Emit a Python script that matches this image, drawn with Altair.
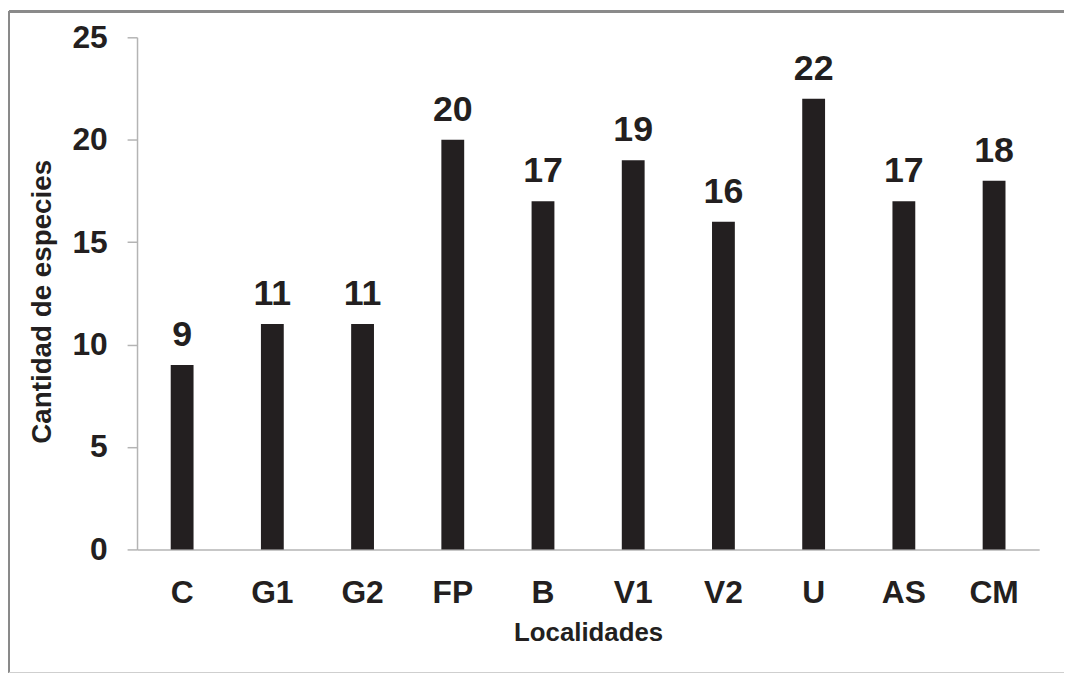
import altair as alt
import pandas as pd

localidades = ["C", "G1", "G2", "FP", "B", "V1", "V2", "U", "AS", "CM"]
especies = [9, 11, 11, 20, 17, 19, 16, 22, 17, 18]
y_ticks = [0, 5, 10, 15, 20, 25]

df = pd.DataFrame({"Localidades": localidades, "Especies": especies})

INK = "#231f20"
FONT = "Liberation Sans"

x_enc = alt.X(
    "Localidades:N",
    sort=localidades,
    scale=alt.Scale(paddingInner=0.0, paddingOuter=0.0),
    axis=alt.Axis(
        title="Localidades",
        labelAngle=0,
        ticks=False,
        tickSize=0,
        labelPadding=28,
        labelFontSize=32,
        labelFontWeight="bold",
        labelColor=INK,
        labelFont=FONT,
        domainColor="#b4b4b4",
        domainWidth=1.5,
        titleFontSize=26,
        titleFontWeight="bold",
        titleColor=INK,
        titleFont=FONT,
        titleBaseline="top",
        titleY=71,
    ),
)
y_enc = alt.Y(
    "Especies:Q",
    scale=alt.Scale(domain=[0, 25], nice=False),
    axis=alt.Axis(
        title="Cantidad de especies",
        values=y_ticks,
        grid=False,
        tickSize=10,
        tickColor="#b4b4b4",
        tickWidth=1.5,
        domainColor="#b4b4b4",
        domainWidth=1.5,
        labelPadding=20,
        labelFontSize=32,
        labelFontWeight="bold",
        labelColor=INK,
        labelFont=FONT,
        titleFontSize=28,
        titleFontWeight="bold",
        titleColor=INK,
        titleFont=FONT,
        titleAngle=-90,
        titleAlign="center",
        titleBaseline="middle",
        titleX=-95,
        titleY=266,
    ),
)

bars = alt.Chart(df).mark_bar(size=23, color=INK).encode(x=x_enc, y=y_enc)

labels = alt.Chart(df).mark_text(
    dy=-19, baseline="alphabetic", fontSize=36, fontWeight="bold", color=INK, font=FONT
).encode(
    x=alt.X("Localidades:N", sort=localidades),
    y="Especies:Q",
    text="Especies:Q",
)

border_top = alt.Chart(df).mark_rule(color="#8a8a8a", strokeWidth=2).encode(
    x=alt.value(-129), x2=alt.value(940), y=alt.value(-26)
)
border_left = alt.Chart(df).mark_rule(color="#8a8a8a", strokeWidth=2).encode(
    x=alt.value(-129), y=alt.value(-26), y2=alt.value(640)
)
border_bottom = alt.Chart(df).mark_rule(color="#d0d0d0", strokeWidth=1).encode(
    x=alt.value(-129), x2=alt.value(940), y=alt.value(640)
)

chart = (
    alt.layer(border_top, border_left, border_bottom, bars, labels)
    .properties(
        width=909,
        height=516,
        autosize=alt.AutoSizeParams(type="none"),
        padding={"left": 130, "top": 27, "right": 25, "bottom": 125},
        view=alt.ViewBackground(strokeWidth=0, strokeOpacity=0),
    )
    .configure_view(strokeWidth=0, strokeOpacity=0)
    .configure(background="white")
)

chart.save("out.html", embed_options={"renderer": "svg", "actions": False})
